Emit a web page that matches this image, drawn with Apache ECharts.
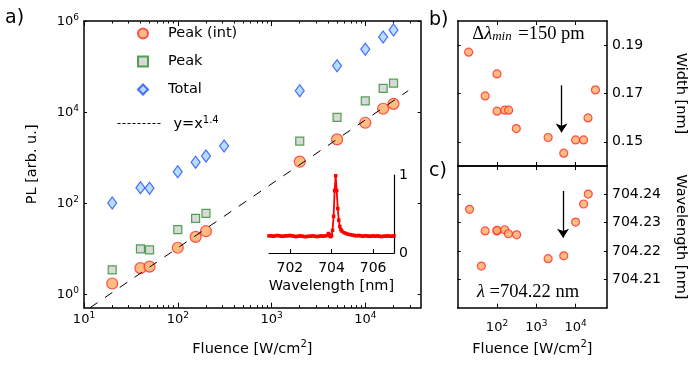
<!DOCTYPE html>
<html><head><meta charset="utf-8">
<script src="https://cdn.jsdelivr.net/npm/echarts@6/dist/echarts.min.js"></script>
<style>html,body{margin:0;padding:0;background:#fff}#c{width:692px;height:365px}</style>
</head><body><div id="c"></div>
<script>
// ---------- data ----------
const fluence = [20, 40, 50, 100, 155, 200, 2000, 5000, 10000, 15500, 20000];
const peakIntPL = [1.7, 3.7, 4.0, 10.4, 18, 24, 810, 2500, 5800, 11800, 15100];
const peakPL = [3.4, 9.8, 9.3, 26, 46, 59, 2300, 7600, 17500, 33000, 43000];
const fluenceTotal = [20, 40, 50, 100, 155, 200, 312, 2000, 5000, 10000, 15500, 20000];
const totalPL = [100, 217, 212, 487, 785, 1080, 1790, 29400, 104000, 239000, 445000, 631000];
const fitFluence = [11.6, 28700];
const fitPL = [0.5, 29400];

const specWavelength = [701.0,701.1,701.2,701.3,701.4,701.5,701.6,701.7,701.8,701.9,702.0,702.1,702.2,702.3,702.4,702.5,702.6,702.7,702.8,702.9,703.0,703.1,703.2,703.3,703.4,703.5,703.6,703.7,703.8,
  703.85,703.9,703.95,704.0,704.05,704.1,704.15,704.2,704.25,704.3,704.35,704.4,704.45,704.5,704.6,704.7,704.8,704.9,705.0,
  705.1,705.2,705.3,705.4,705.5,705.6,705.7,705.8,705.9,706.0,706.1,706.2,706.3,706.4,706.5,706.6,706.7,706.8,706.9,707.0];
const specIntensity = [0.22,0.22,0.215,0.22,0.225,0.22,0.215,0.215,0.22,0.22,0.225,0.22,0.215,0.21,0.215,0.22,0.215,0.21,0.21,0.215,0.215,0.22,0.215,0.21,0.215,0.22,0.215,0.22,0.225,
  0.25,0.235,0.21,0.22,0.29,0.47,0.80,0.99,0.80,0.57,0.42,0.34,0.30,0.28,0.26,0.25,0.24,0.235,0.23,
  0.225,0.22,0.225,0.22,0.215,0.22,0.22,0.215,0.215,0.22,0.215,0.22,0.215,0.21,0.215,0.215,0.22,0.215,0.215,0.22];

const widthFluence = [19, 50, 100, 100, 157, 198, 310, 2000, 5000, 10000, 16000, 20700, 32000];
const widthNm = [0.1871, 0.169, 0.1781, 0.1627, 0.1631, 0.1631, 0.1555, 0.1518, 0.1453, 0.1508, 0.1508, 0.1599, 0.1715];
const peakFluence = [20, 40, 50, 100, 100, 157, 195, 316, 2000, 5000, 10000, 16000, 21000];
const peakWavelength = [704.2347, 704.2147, 704.2271, 704.2271, 704.2273, 704.2275, 704.2261, 704.2257, 704.2173, 704.2183, 704.2302, 704.2366, 704.2401];

const arrowFluenceB = 4400, arrowWidth = [0.1734, 0.1539];
const arrowFluenceC = 4800, arrowWavelength = [704.2412, 704.2247];

const mainXDecades = [1, 2, 3, 4];
const mainYDecades = [0, 2, 4, 6];
const sideXDecades = [2, 3, 4];
const insetXTicks = [702, 704, 706];
const insetYTicks = [0, 1];
const widthTicks = [0.15, 0.17, 0.19];
const wavelengthTicks = [704.21, 704.22, 704.23, 704.24];

// ---------- helpers ----------
const F = 'DejaVu Sans';
const L = Math.log10;
const pairs = (xs, ys) => xs.map((x, i) => [L(x), L(ys[i])]);
const pairsX = (xs, ys) => xs.map((x, i) => [L(x), ys[i]]);
function minorTicks(lo, hi) {
  const out = [];
  for (let e = Math.floor(lo); e <= Math.ceil(hi); e++)
    for (let k = 2; k <= 9; k++) { const v = e + L(k); if (v > lo && v < hi) out.push(v); }
  return out;
}
const logRich = {
  b: {fontFamily: F, fontSize: 13, color: '#000', verticalAlign: 'bottom'},
  s: {fontFamily: F, fontSize: 9, color: '#000', verticalAlign: 'bottom', padding: [0, 0, 6, 0]}
};
const logFmt = v => '{b|10}{s|' + Math.round(v) + '}';
const nameRich = {
  n: {fontFamily: F, fontSize: 14.5, color: '#000', verticalAlign: 'bottom'},
  s: {fontFamily: F, fontSize: 10, color: '#000', verticalAlign: 'bottom', padding: [0, 0, 7, 0]}
};
function axis(gridIndex, position, min, max, o) {
  const a = {
    type: 'value', gridIndex, position, min, max,
    splitLine: {show: false},
    axisLine: {show: o.line !== false, onZero: false, lineStyle: {color: '#000', width: o.lw || 1.5}},
    axisTick: o.ticks ? {show: true, inside: true, length: o.tickLen || 4, customValues: o.ticks, lineStyle: {color: '#000', width: 1}} : {show: false},
    axisLabel: o.labels ? Object.assign({show: true, customValues: o.labels, color: '#000', fontFamily: F, fontSize: 13, margin: 6}, o.label || {}) : {show: false}
  };
  if (o.name) {
    a.name = o.name; a.nameLocation = 'middle'; a.nameGap = o.nameGap;
    if (o.nameRotate !== undefined) a.nameRotate = o.nameRotate;
    a.nameTextStyle = {fontFamily: F, fontSize: 14.5, color: '#000', rich: nameRich};
  }
  return a;
}

const mainXMax = L(39000), mainYMin = L(0.5), mainYMax = 6;
const sideXMin = 1, sideXMax = L(63000);

const xAxis = [
  axis(0, 'bottom', 1, mainXMax, {ticks: mainXDecades, tickLen: 5, labels: mainXDecades,
    label: {formatter: logFmt, rich: logRich, margin: 3},
    name: '{n|Fluence [W/cm}{s|2}{n|]}', nameGap: 32}),
  axis(0, 'bottom', 1, mainXMax, {line: false, ticks: minorTicks(1, mainXMax), tickLen: 2.5}),
  axis(0, 'top', 1, mainXMax, {ticks: mainXDecades, tickLen: 5}),
  axis(0, 'top', 1, mainXMax, {line: false, ticks: minorTicks(1, mainXMax), tickLen: 2.5}),
  axis(1, 'bottom', 701, 707, {lw: 1.2, ticks: insetXTicks, tickLen: 4, labels: insetXTicks,
    label: {fontSize: 14, margin: 8}, name: '{n|Wavelength [nm]}', nameGap: 26}),
  axis(2, 'bottom', sideXMin, sideXMax, {ticks: sideXDecades, tickLen: 4}),
  axis(2, 'top', sideXMin, sideXMax, {ticks: sideXDecades, tickLen: 4}),
  axis(3, 'top', sideXMin, sideXMax, {ticks: sideXDecades, tickLen: 4}),
  axis(3, 'bottom', sideXMin, sideXMax, {ticks: sideXDecades, tickLen: 4, labels: sideXDecades,
    label: {formatter: logFmt, rich: logRich, margin: 11},
    name: '{n|Fluence [W/cm}{s|2}{n|]}', nameGap: 32})
];
const yAxis = [
  axis(0, 'left', mainYMin, mainYMax, {ticks: mainYDecades, tickLen: 3, labels: mainYDecades,
    label: {formatter: logFmt, rich: logRich, margin: 5},
    name: '{n|PL [arb. u.]}', nameGap: 44}),
  axis(0, 'right', mainYMin, mainYMax, {ticks: mainYDecades, tickLen: 3}),
  axis(1, 'right', 0, 1, {lw: 1.2, labels: insetYTicks, label: {fontSize: 14, margin: 5}}),
  axis(2, 'left', 0.14, 0.20, {ticks: widthTicks, tickLen: 3}),
  axis(2, 'right', 0.14, 0.20, {ticks: widthTicks, tickLen: 3, labels: widthTicks,
    label: {fontSize: 14, margin: 5, formatter: v => v.toFixed(2)},
    name: '{n|Width [nm]}', nameGap: 66, nameRotate: -90}),
  axis(3, 'left', 704.20, 704.25, {ticks: wavelengthTicks, tickLen: 3}),
  axis(3, 'right', 704.20, 704.25, {ticks: wavelengthTicks, tickLen: 3, labels: wavelengthTicks,
    label: {fontSize: 14, margin: 5, formatter: v => v.toFixed(2)},
    name: '{n|Wavelength [nm]}', nameGap: 66, nameRotate: -90})
];

const circleStyle = {color: '#fcab60', borderColor: '#ff2b2b', borderWidth: 1.2};
const arrowLine = (x, ys) => ({
  silent: true, symbol: ['none', 'arrow'], symbolSize: 9,
  label: {show: false}, lineStyle: {color: '#000', width: 1.3, type: 'solid'},
  data: [[{coord: [L(x), ys[0]]}, {coord: [L(x), ys[1]]}]]
});
const legendText = {fontFamily: F, fontSize: 14.5, color: '#000'};

const option = {
  animation: false,
  backgroundColor: '#fff',
  grid: [
    {left: 84, top: 21, width: 336.7, height: 286.7},
    {left: 269, top: 175, width: 125, height: 78},
    {left: 457.7, top: 21, width: 149.3, height: 145},
    {left: 457.7, top: 166, width: 149.3, height: 141.7}
  ],
  xAxis, yAxis,
  legend: [
    {left: 132, top: 21, orient: 'vertical', selectedMode: false,
      itemWidth: 10, itemHeight: 10, itemGap: 13,
      textStyle: Object.assign({padding: [0, 0, 0, 15]}, legendText),
      data: ['Peak (int)', 'Peak', 'Total']},
    {left: 112, top: 110, orient: 'vertical', selectedMode: false,
      itemWidth: 45, itemHeight: 11,
      textStyle: Object.assign({padding: [0, 0, 0, 6],
        rich: {n: {fontFamily: F, fontSize: 14.5, color: '#000', verticalAlign: 'bottom'},
               s: {fontFamily: F, fontSize: 10, color: '#000', verticalAlign: 'bottom', padding: [0, 0, 7, 0]}}}, legendText),
      formatter: () => '{n|y=x}{s|1.4}',
      data: [{name: 'fit', lineStyle: {type: [3, 2], width: 1}, itemStyle: {opacity: 0}}]}
  ],
  series: [
    {name: 'Total', type: 'scatter', xAxisIndex: 0, yAxisIndex: 0, symbol: 'diamond', symbolSize: [9, 12],
      itemStyle: {color: '#a8d4ff', borderColor: '#1f4dff', borderWidth: 1.2}, data: pairs(fluenceTotal, totalPL)},
    {name: 'Peak', type: 'scatter', xAxisIndex: 0, yAxisIndex: 0, symbol: 'rect', symbolSize: 8,
      itemStyle: {color: '#cfcfcf', borderColor: '#2b8c2b', borderWidth: 1.2}, data: pairs(fluence, peakPL)},
    {name: 'fit', type: 'line', xAxisIndex: 0, yAxisIndex: 0, symbol: 'none', clip: true,
      lineStyle: {color: '#000', width: 1, type: [9, 9]}, itemStyle: {color: '#000'}, data: pairs(fitFluence, fitPL)},
    {name: 'Peak (int)', type: 'scatter', xAxisIndex: 0, yAxisIndex: 0, symbol: 'circle', symbolSize: 11,
      itemStyle: circleStyle, data: pairs(fluence, peakIntPL)},
    {name: 'spectrum', type: 'line', xAxisIndex: 4, yAxisIndex: 2, symbol: 'rect', symbolSize: 3.5, showSymbol: true,
      lineStyle: {color: '#ff0000', width: 1.8}, itemStyle: {color: '#ff0000'},
      data: specWavelength.map((w, i) => [w, specIntensity[i]])},
    {name: 'width', type: 'scatter', xAxisIndex: 5, yAxisIndex: 3, symbol: 'circle', symbolSize: 8,
      itemStyle: circleStyle, data: pairsX(widthFluence, widthNm), markLine: arrowLine(arrowFluenceB, arrowWidth)},
    {name: 'peakwl', type: 'scatter', xAxisIndex: 8, yAxisIndex: 5, symbol: 'circle', symbolSize: 8,
      itemStyle: circleStyle, data: pairsX(peakFluence, peakWavelength), markLine: arrowLine(arrowFluenceC, arrowWavelength)}
  ],
  graphic: [
    {type: 'text', left: 5, top: 9, style: {text: 'a)', font: '19px "DejaVu Sans"', fill: '#000'}},
    {type: 'text', left: 429, top: 11, style: {text: 'b)', font: '19px "DejaVu Sans"', fill: '#000'}},
    {type: 'text', left: 429, top: 162, style: {text: 'c)', font: '19px "DejaVu Sans"', fill: '#000'}},
    {type: 'text', x: 528.5, y: 34, style: {
      text: '{g|Δ}{l|λ}{m|min}{g| =150 pm}', align: 'center', verticalAlign: 'middle',
      rich: {g: {fontFamily: 'Liberation Serif', fontSize: 18.5, fill: '#000', verticalAlign: 'bottom'},
             l: {fontFamily: 'Liberation Serif', fontStyle: 'italic', fontSize: 18.5, fill: '#000', verticalAlign: 'bottom'},
             m: {fontFamily: 'Liberation Serif', fontStyle: 'italic', fontSize: 13, fill: '#000', verticalAlign: 'bottom', padding: [0, 2, 0, 0]}}}},
    {type: 'text', x: 528, y: 292, style: {
      text: '{l|λ}{g| =704.22 nm}', align: 'center', verticalAlign: 'middle',
      rich: {g: {fontFamily: 'Liberation Serif', fontSize: 18.5, fill: '#000'},
             l: {fontFamily: 'Liberation Serif', fontStyle: 'italic', fontSize: 18.5, fill: '#000'}}}}
  ]
};
const chart = echarts.init(document.getElementById('c'), null, {renderer: 'canvas'});
chart.setOption(option);
</script></body></html>
